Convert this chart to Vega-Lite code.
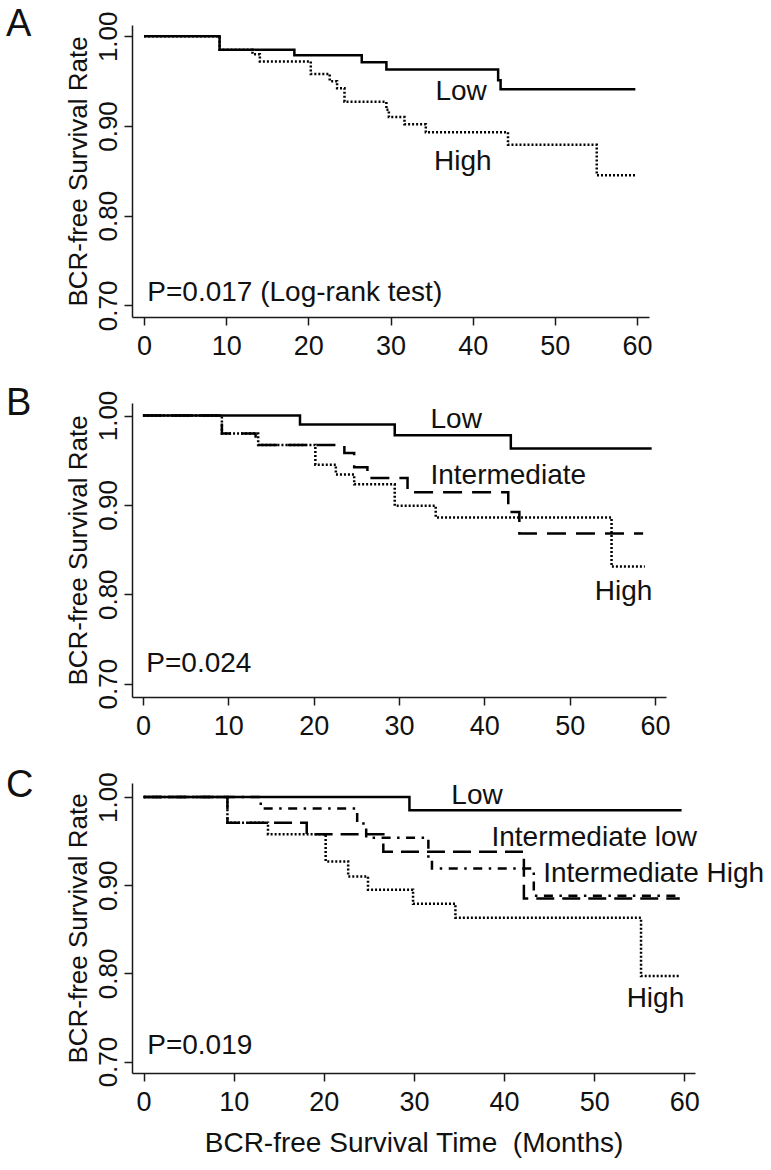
{
  "$schema": "https://vega.github.io/schema/vega-lite/v6.json",
  "background": "white",
  "padding": {"left": 6, "top": 5, "right": 5, "bottom": 5},
  "spacing": 86,
  "bounds": "flush",
  "resolve": {"scale": {"strokeDash": "independent"}},
  "config": {
    "font": "Liberation Sans",
    "view": {"stroke": null},
    "axis": {
      "grid": false,
      "domainColor": "#1a1a1a",
      "tickColor": "#1a1a1a",
      "labelColor": "#111111",
      "titleColor": "#111111",
      "labelFont": "Liberation Sans",
      "titleFont": "Liberation Sans",
      "labelFontSize": 26,
      "titleFontSize": 26,
      "titleFontWeight": "normal",
      "domainWidth": 1.5,
      "tickWidth": 1.5,
      "tickSize": 8,
      "labelFlush": false,
      "labelOverlap": false
    },
    "title": {
      "font": "Liberation Sans",
      "fontSize": 38,
      "fontWeight": "normal",
      "anchor": "start",
      "frame": "group",
      "baseline": "alphabetic",
      "offset": 0,
      "color": "#111111"
    }
  },
  "datasets": {
    "curvesA": [
      {"group": "Low", "t": 0, "s": 1},
      {"group": "Low", "t": 9.2, "s": 0.985},
      {"group": "Low", "t": 18.3, "s": 0.979},
      {"group": "Low", "t": 26.5, "s": 0.971},
      {"group": "Low", "t": 29.5, "s": 0.963},
      {"group": "Low", "t": 43.1, "s": 0.951},
      {"group": "Low", "t": 43.4, "s": 0.941},
      {"group": "Low", "t": 59.8, "s": 0.941},
      {"group": "High", "t": 0, "s": 1},
      {"group": "High", "t": 9.2, "s": 0.985},
      {"group": "High", "t": 13.2, "s": 0.980},
      {"group": "High", "t": 14.1, "s": 0.972},
      {"group": "High", "t": 20.3, "s": 0.958},
      {"group": "High", "t": 22.6, "s": 0.950},
      {"group": "High", "t": 23.5, "s": 0.942},
      {"group": "High", "t": 24.4, "s": 0.927},
      {"group": "High", "t": 29.5, "s": 0.918},
      {"group": "High", "t": 29.8, "s": 0.910},
      {"group": "High", "t": 31.7, "s": 0.902},
      {"group": "High", "t": 34.3, "s": 0.893},
      {"group": "High", "t": 44.3, "s": 0.879},
      {"group": "High", "t": 55.1, "s": 0.845},
      {"group": "High", "t": 59.8, "s": 0.845}
    ],
    "labelsA": [
      {"label": "Low", "t": 38.6, "s": 0.9288},
      {"label": "High", "t": 38.8, "s": 0.851}
    ],
    "pA": [{"label": "P=0.017 (Log-rank test)", "t": 0.4, "s": 0.705}],
    "curvesB": [
      {"group": "Low", "t": 0, "s": 1},
      {"group": "Low", "t": 18.4, "s": 0.990},
      {"group": "Low", "t": 29.5, "s": 0.978},
      {"group": "Low", "t": 43.1, "s": 0.963},
      {"group": "Low", "t": 59.6, "s": 0.963},
      {"group": "Intermediate", "t": 0, "s": 1},
      {"group": "Intermediate", "t": 9.25, "s": 0.980},
      {"group": "Intermediate", "t": 13.2, "s": 0.967},
      {"group": "Intermediate", "t": 23.6, "s": 0.958},
      {"group": "Intermediate", "t": 24.75, "s": 0.942},
      {"group": "Intermediate", "t": 26.3, "s": 0.930},
      {"group": "Intermediate", "t": 31.0, "s": 0.914},
      {"group": "Intermediate", "t": 42.8, "s": 0.892},
      {"group": "Intermediate", "t": 44.1, "s": 0.868},
      {"group": "Intermediate", "t": 58.6, "s": 0.868},
      {"group": "High", "t": 0, "s": 1},
      {"group": "High", "t": 9.25, "s": 0.980},
      {"group": "High", "t": 13.5, "s": 0.967},
      {"group": "High", "t": 20.2, "s": 0.945},
      {"group": "High", "t": 22.6, "s": 0.934},
      {"group": "High", "t": 24.75, "s": 0.923},
      {"group": "High", "t": 29.5, "s": 0.899},
      {"group": "High", "t": 34.3, "s": 0.886},
      {"group": "High", "t": 54.9, "s": 0.831},
      {"group": "High", "t": 58.8, "s": 0.831}
    ],
    "labelsB": [
      {"label": "Low", "t": 36.7, "s": 0.986},
      {"label": "Intermediate", "t": 42.8, "s": 0.923},
      {"label": "High", "t": 56.3, "s": 0.794}
    ],
    "pB": [{"label": "P=0.024", "t": 0.4, "s": 0.713}],
    "curvesC": [
      {"group": "Low", "t": 0, "s": 1},
      {"group": "Low", "t": 29.5, "s": 0.985},
      {"group": "Low", "t": 59.7, "s": 0.985},
      {"group": "Intermediate low", "t": 0, "s": 1},
      {"group": "Intermediate low", "t": 9.3, "s": 0.971},
      {"group": "Intermediate low", "t": 18.1, "s": 0.958},
      {"group": "Intermediate low", "t": 26.6, "s": 0.938},
      {"group": "Intermediate low", "t": 42.2, "s": 0.885},
      {"group": "Intermediate low", "t": 59.5, "s": 0.885},
      {"group": "Intermediate High", "t": 0, "s": 1},
      {"group": "Intermediate High", "t": 13.0, "s": 0.987},
      {"group": "Intermediate High", "t": 23.7, "s": 0.970},
      {"group": "Intermediate High", "t": 24.7, "s": 0.954},
      {"group": "Intermediate High", "t": 31.6, "s": 0.931},
      {"group": "Intermediate High", "t": 32.0, "s": 0.919},
      {"group": "Intermediate High", "t": 43.3, "s": 0.888},
      {"group": "Intermediate High", "t": 59.5, "s": 0.888},
      {"group": "High", "t": 0, "s": 1},
      {"group": "High", "t": 9.3, "s": 0.971},
      {"group": "High", "t": 13.8, "s": 0.958},
      {"group": "High", "t": 20.2, "s": 0.927},
      {"group": "High", "t": 22.7, "s": 0.910},
      {"group": "High", "t": 24.9, "s": 0.895},
      {"group": "High", "t": 29.9, "s": 0.879},
      {"group": "High", "t": 34.6, "s": 0.863},
      {"group": "High", "t": 55.2, "s": 0.797},
      {"group": "High", "t": 59.4, "s": 0.797}
    ],
    "labelsC": [
      {"label": "Low", "t": 37.0, "s": 0.992},
      {"label": "Intermediate low", "t": 50.0, "s": 0.945},
      {"label": "Intermediate High", "t": 56.6, "s": 0.904},
      {"label": "High", "t": 56.8, "s": 0.762}
    ],
    "pC": [{"label": "P=0.019", "t": 0.4, "s": 0.709}]
  },
  "vconcat": [
    {
      "width": 517,
      "height": 292,
      "title": {"text": "A", "dx": -126, "dy": 37},
      "encoding": {
        "x": {"field": "t", "type": "quantitative",
              "scale": {"domain": [-1.46, 61.46], "nice": false, "zero": false},
              "axis": {"values": [0, 10, 20, 30, 40, 50, 60], "title": null, "labelPadding": 8, "labelFontSize": 27}},
        "y": {"field": "s", "type": "quantitative",
              "scale": {"domain": [0.687, 1.0126], "nice": false, "zero": false},
              "axis": {"values": [0.7, 0.8, 0.9, 1.0], "format": ".2f", "labelAngle": 270, "labelAlign": "center", "labelBaseline": "alphabetic", "labelPadding": 8, "title": "BCR-free Survival Rate", "titlePadding": 4}}
      },
      "layer": [
        {"data": {"name": "curvesA"},
         "mark": {"type": "line", "interpolate": "step-after", "strokeWidth": 2.5, "color": "black"},
         "encoding": {"strokeDash": {"field": "group", "type": "nominal", "legend": null,
           "scale": {"domain": ["Low", "High", "Intermediate", "Intermediate low", "Intermediate High"], "range": [[1, 0], [2, 2], [19, 10], [18, 8], [2.5, 6.5, 9, 6.5]]}}}},
        {"data": {"name": "labelsA"},
         "mark": {"type": "text", "fontSize": 28, "align": "center", "baseline": "alphabetic", "color": "#111111"},
         "encoding": {"text": {"field": "label"}}},
        {"data": {"name": "pA"},
         "mark": {"type": "text", "fontSize": 28, "align": "left", "baseline": "alphabetic", "color": "#111111"},
         "encoding": {"text": {"field": "label"}}}
      ]
    },
    {
      "width": 534,
      "height": 294,
      "title": {"text": "B", "dx": -126, "dy": 37},
      "encoding": {
        "x": {"field": "t", "type": "quantitative",
              "scale": {"domain": [-1.28, 61.28], "nice": false, "zero": false},
              "axis": {"values": [0, 10, 20, 30, 40, 50, 60], "title": null, "labelPadding": 8, "labelFontSize": 27}},
        "y": {"field": "s", "type": "quantitative",
              "scale": {"domain": [0.685, 1.014], "nice": false, "zero": false},
              "axis": {"values": [0.7, 0.8, 0.9, 1.0], "format": ".2f", "labelAngle": 270, "labelAlign": "center", "labelBaseline": "alphabetic", "labelPadding": 8, "title": "BCR-free Survival Rate", "titlePadding": 4}}
      },
      "layer": [
        {"data": {"name": "curvesB"},
         "mark": {"type": "line", "interpolate": "step-after", "strokeWidth": 2.5, "color": "black"},
         "encoding": {"strokeDash": {"field": "group", "type": "nominal", "legend": null,
           "scale": {"domain": ["Low", "High", "Intermediate", "Intermediate low", "Intermediate High"], "range": [[1, 0], [2, 2], [19, 10], [18, 8], [2.5, 6.5, 9, 6.5]]}}}},
        {"data": {"name": "labelsB"},
         "mark": {"type": "text", "fontSize": 28, "align": "center", "baseline": "alphabetic", "color": "#111111"},
         "encoding": {"text": {"field": "label"}}},
        {"data": {"name": "pB"},
         "mark": {"type": "text", "fontSize": 28, "align": "left", "baseline": "alphabetic", "color": "#111111"},
         "encoding": {"text": {"field": "label"}}}
      ]
    },
    {
      "width": 563,
      "height": 290,
      "title": {"text": "C", "dx": -126, "dy": 37},
      "encoding": {
        "x": {"field": "t", "type": "quantitative",
              "scale": {"domain": [-1.29, 61.19], "nice": false, "zero": false},
              "axis": {"values": [0, 10, 20, 30, 40, 50, 60], "title": "BCR-free Survival Time\u00a0 (Months)", "labelPadding": 8, "labelFontSize": 27, "titleFontSize": 28, "titlePadding": 14}},
        "y": {"field": "s", "type": "quantitative",
              "scale": {"domain": [0.687, 1.016], "nice": false, "zero": false},
              "axis": {"values": [0.7, 0.8, 0.9, 1.0], "format": ".2f", "labelAngle": 270, "labelAlign": "center", "labelBaseline": "alphabetic", "labelPadding": 8, "title": "BCR-free Survival Rate", "titlePadding": 4}}
      },
      "layer": [
        {"data": {"name": "curvesC"},
         "mark": {"type": "line", "interpolate": "step-after", "strokeWidth": 2.5, "color": "black"},
         "encoding": {"strokeDash": {"field": "group", "type": "nominal", "legend": null,
           "scale": {"domain": ["Low", "High", "Intermediate", "Intermediate low", "Intermediate High"], "range": [[1, 0], [2, 2], [19, 10], [18, 8], [2.5, 6.5, 9, 6.5]]}}}},
        {"data": {"name": "labelsC"},
         "mark": {"type": "text", "fontSize": 28, "align": "center", "baseline": "alphabetic", "color": "#111111"},
         "encoding": {"text": {"field": "label"}}},
        {"data": {"name": "pC"},
         "mark": {"type": "text", "fontSize": 28, "align": "left", "baseline": "alphabetic", "color": "#111111"},
         "encoding": {"text": {"field": "label"}}}
      ]
    }
  ]
}
